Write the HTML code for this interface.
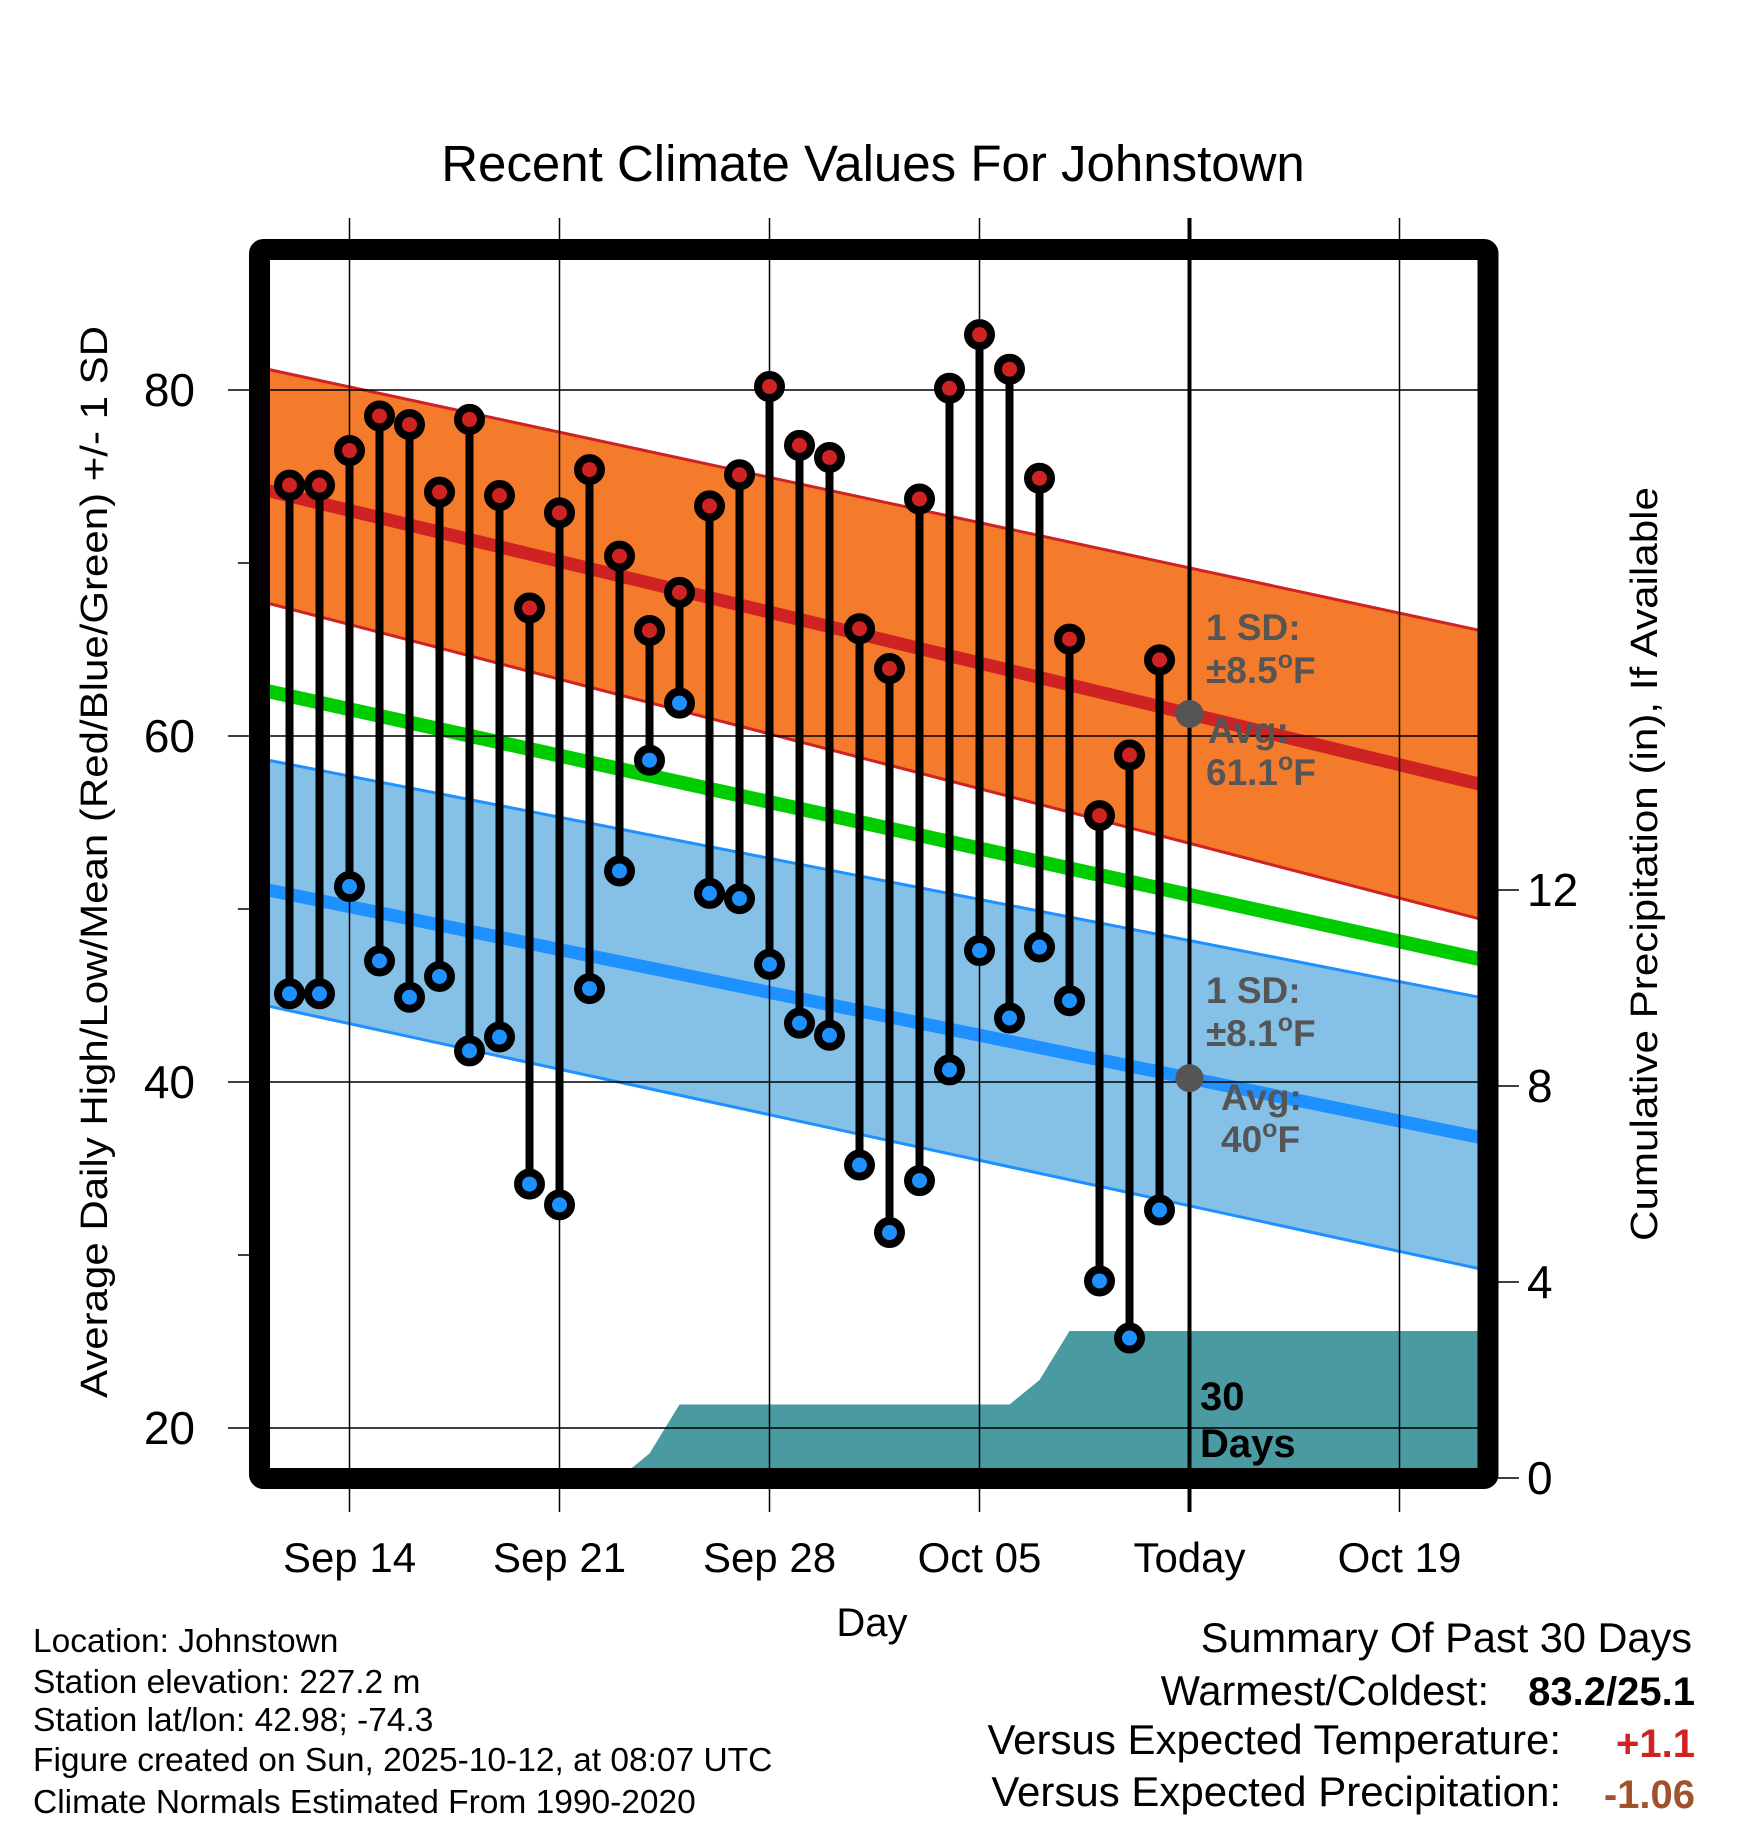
<!DOCTYPE html>
<html><head><meta charset="utf-8"><style>
html,body{margin:0;padding:0;background:#fff}
svg{display:block}
text{font-family:"Liberation Sans",sans-serif}
</style></head><body>
<svg id="chart" width="1748" height="1828" viewBox="0 0 1748 1828" xmlns="http://www.w3.org/2000/svg">
<text x="873" y="181" font-size="51" text-anchor="middle">Recent Climate Values For Johnstown</text>
<g id="plot"></g>
</svg>
<script>
const dayLabels = ["Sep 14","Sep 21","Sep 28","Oct 05","Today","Oct 19"];
const dayLabelIdx = [2,9,16,23,30,37];
const highs = [74.5,74.5,76.5,78.5,78.0,74.1,78.3,73.9,67.4,72.9,75.4,70.4,66.1,68.3,73.3,75.1,80.2,76.8,76.1,66.2,63.9,73.7,80.1,83.2,81.2,74.9,65.6,55.4,58.9,64.4];
const lows  = [45.1,45.1,51.3,47.0,44.9,46.1,41.8,42.6,34.1,32.9,45.4,52.2,58.6,61.9,50.9,50.6,46.8,43.4,42.7,35.2,31.3,34.3,40.7,47.6,43.7,47.8,44.7,28.5,25.2,32.6];
const precip = [0,0,0,0,0,0,0,0,0,0,0,0,0.5,1.5,1.5,1.5,1.5,1.5,1.5,1.5,1.5,1.5,1.5,1.5,1.5,2.0,3.0,3.0,3.0,3.0];
const normEdgeDays = [-1,39.95];
const highUpper = [81.3,66.0];
const highMean  = [74.3,57.1];
const highLower = [67.8,49.3];
const meanTemp  = [62.7,47.0];
const lowUpper  = [58.7,44.8];
const lowMean   = [51.2,36.7];
const lowLower  = [44.5,29.1];
const tempTicks = [20,40,60,80];
const tempMinor = [30,50,70];
const precipTicks = [0,4,8,12];

const NS="http://www.w3.org/2000/svg";
const plot=document.getElementById('plot');
const L=259.5,R=1488,T=249.5,B=1478.5;
function X(d){return 289.5+30*d;}
function Y(t){return 390+(80-t)*17.3;}
function P(p){return 1478+(0-p)*49;}
function mk(tag,attrs,parent){const e=document.createElementNS(NS,tag);for(const k in attrs)e.setAttribute(k,attrs[k]);(parent||plot).appendChild(e);return e;}
function band(a,b,fill,name){
  const x0=X(normEdgeDays[0]),x1=X(normEdgeDays[1]);
  const e=mk('polygon',{points:`${x0},${Y(a[0])} ${x1},${Y(a[1])} ${x1},${Y(b[1])} ${x0},${Y(b[0])}`,fill:fill});
  
  
}
function line(a,color,w,name){
  const e=mk('line',{x1:X(normEdgeDays[0]),y1:Y(a[0]),x2:X(normEdgeDays[1]),y2:Y(a[1]),stroke:color,'stroke-width':w});
  
  
}
band(highUpper,highLower,'#F47A2C','high-sd-band');
band(lowUpper,lowLower,'#85C1E6','low-sd-band');
line(highUpper,'#CF2222',3,'high-upper-line');
line(highLower,'#CF2222',3,'high-lower-line');
line(highMean,'#CF2222',13,'high-mean-line');
line(meanTemp,'#00CC00',14,'mean-temp-line');
line(lowUpper,'#1E90FF',3,'low-upper-line');
line(lowLower,'#1E90FF',3,'low-lower-line');
line(lowMean,'#1E90FF',13,'low-mean-line');
let pts=`${X(0)},${P(0)} `;
precip.forEach((p,i)=>{pts+=`${X(i)},${P(p)} `;});
pts+=`${R},${P(precip[precip.length-1])} ${R},${P(0)}`;
const pa=mk('polygon',{points:pts,fill:'#4A9AA2'});


tempTicks.forEach(t=>{const e=mk('line',{x1:228,y1:Y(t),x2:R,y2:Y(t),stroke:'#000','stroke-width':1.5});


const tx=mk('text',{x:195,y:Y(t)+16,'font-size':46,'text-anchor':'end'});tx.textContent=t;

});
tempMinor.forEach(t=>{mk('line',{x1:238,y1:Y(t),x2:250,y2:Y(t),stroke:'#000','stroke-width':1.5});});
dayLabelIdx.forEach((d,i)=>{const x=X(d);
const e=mk('line',{x1:x,y1:218,x2:x,y2:1512,stroke:'#000','stroke-width':i==4?4:1.5});


const tx=mk('text',{x:x,y:1572,'font-size':42,'text-anchor':'middle'});tx.textContent=dayLabels[i];

});
precipTicks.forEach(p=>{mk('line',{x1:1498,y1:P(p),x2:1519,y2:P(p),stroke:'#000','stroke-width':1.5});
const tx=mk('text',{x:1527,y:P(p)+16,'font-size':46});tx.textContent=p;

});
highs.forEach((h,i)=>{const x=X(i);
const s=mk('line',{x1:x,y1:Y(h),x2:x,y2:Y(lows[i]),stroke:'#000','stroke-width':8});

});
highs.forEach((h,i)=>{
const c=mk('circle',{cx:X(i),cy:Y(h),r:11.5,fill:'#CF2222',stroke:'#000','stroke-width':8});


const c2=mk('circle',{cx:X(i),cy:Y(lows[i]),r:11.5,fill:'#1E90FF',stroke:'#000','stroke-width':8});

});
const todayD=30;
function interp(a,d){const f=(d-normEdgeDays[0])/(normEdgeDays[1]-normEdgeDays[0]);return a[0]+f*(a[1]-a[0]);}
[[highMean,'avg-high-dot'],[lowMean,'avg-low-dot']].forEach(([a,n])=>{const c=mk('circle',{cx:X(todayD),cy:Y(interp(a,todayD)),r:14,fill:'#555'});

});
function ann(txt,x,y,name,sup){const t=mk('text',{x:x,y:y,'font-size':37,'font-weight':'bold',fill:'#555'});


if(sup){t.textContent=txt[0];const ts=mk('tspan',{dy:-15,'font-size':25},t);ts.textContent='o';const t2=mk('tspan',{dy:15},t);t2.textContent=txt[1];}else t.textContent=txt;}
ann('1 SD:',1206,640,'high-sd-label');
ann(['±8.5','F'],1206,683,'high-sd-value',true);
ann('Avg:',1208,743,'high-avg-label');
ann(['61.1','F'],1206,785,'high-avg-value',true);
ann('1 SD:',1206,1003,'low-sd-label');
ann(['±8.1','F'],1206,1046,'low-sd-value',true);
ann('Avg:',1221,1110,'low-avg-label');
ann(['40','F'],1221,1152,'low-avg-value',true);
const d1=mk('text',{x:1200,y:1410,'font-size':40,'font-weight':'bold'});d1.textContent='30';


const d2=mk('text',{x:1200,y:1457,'font-size':40,'font-weight':'bold'});d2.textContent='Days';


const fr=mk('rect',{x:L,y:T,width:R-L,height:B-T,fill:'none',stroke:'#000','stroke-width':21,rx:4});


function t(txt,x,y,fs,name,extra){const e=mk('text',Object.assign({x:x,y:y,'font-size':fs},extra||{}));e.textContent=txt;

return e;}
t('Day',872,1636,40,'x-axis-title',{'text-anchor':'middle'});
t('Average Daily High/Low/Mean (Red/Blue/Green) +/- 1 SD',0,0,38,'y-axis-title',{'text-anchor':'middle',transform:'translate(107,862) rotate(-90)',textLength:1072,lengthAdjust:'spacingAndGlyphs'});
t('Cumulative Precipitation (in), If Available',0,0,38,'y2-axis-title',{'text-anchor':'middle',transform:'translate(1657,864) rotate(-90)',textLength:754,lengthAdjust:'spacingAndGlyphs'});
const foot=["Location: Johnstown","Station elevation: 227.2 m","Station lat/lon: 42.98; -74.3","Figure created on Sun, 2025-10-12, at 08:07 UTC","Climate Normals Estimated From 1990-2020"];
const footY=[1652,1693,1731,1771,1813];
foot.forEach((s,i)=>t(s,33,footY[i],33.5,'footer-info-line'));
t('Summary Of Past 30 Days',1692,1652,41.5,'summary-title',{'text-anchor':'end'});
t('Warmest/Coldest:',1489,1705,41.5,'warmest-coldest-label',{'text-anchor':'end'});
t('83.2/25.1',1695,1705,40,'warmest-coldest-value',{'text-anchor':'end','font-weight':'bold'});
t('Versus Expected Temperature:',1561,1754,42,'temp-departure-label',{'text-anchor':'end'});
t('+1.1',1695,1757,40,'temp-departure-value',{'text-anchor':'end','font-weight':'bold',fill:'#CF2222'});
t('Versus Expected Precipitation:',1561,1806,42,'precip-departure-label',{'text-anchor':'end'});
t('-1.06',1695,1808,40,'precip-departure-value',{'text-anchor':'end','font-weight':'bold',fill:'#A0522D'});
</script>
</body></html>
